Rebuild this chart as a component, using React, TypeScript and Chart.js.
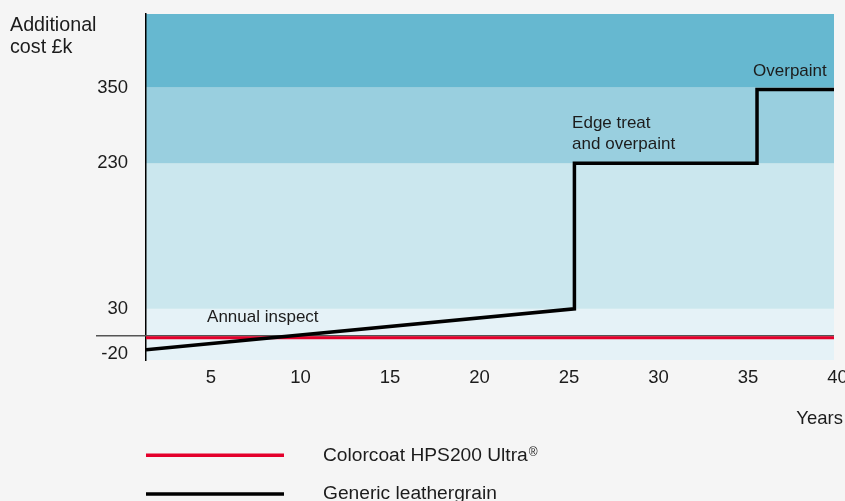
import React, { useEffect, useRef } from 'react';
import { Chart, registerables, LinearScale } from 'chart.js';

// ---------- data ----------
const yearTicks = [5, 10, 15, 20, 25, 30, 35, 40];
const costTicks = [-20, 30, 230, 350];
const bandEdges = [30, 230, 350];
const seriesNames = ['Colorcoat HPS200 Ultra®', 'Generic leathergrain'];
const colorcoatYears = [1.37, 39.8];
const colorcoatCost = [-2.3, -2.3];
const leatherYears = [1.37, 25.3, 25.3, 35.5, 35.5, 39.8];
const leatherCost = [-15.5, 30, 230, 230, 347, 347];
const annotationTexts = [['Annual inspect'], ['Edge treat', 'and overpaint'], ['Overpaint']];
const annotationYears = [4.78, 25.17, 35.28];
const annotationCosts = [15.3, 286, 368];
const yTitleLines = ['Additional', 'cost £k'];
const xTitle = 'Years';

// ---------- axis geometry ----------
const X_MIN = 1.37;
const X_MAX = 39.8;
// piecewise cost axis: value stops and their fraction of plot height (bottom -> top)
const Y_STOPS = [-27, 30, 230, 350, 466];
const Y_FRACS = [0, 0.148, 0.5685, 0.7876, 1];

// ---------- styles ----------
const FONT = '"Liberation Sans", Arial, Helvetica, sans-serif';
const TEXT = '#1c1c1c';
const BAND_COLORS = ['#e5f2f7', '#cbe7ee', '#99cfdf', '#66b8d0'];
const RED = '#e4002b';
const BLACK = '#000000';

function costToFrac(v: number): number {
  const s = Y_STOPS, f = Y_FRACS;
  let i = 0;
  while (i < s.length - 2 && v > s[i + 1]) i++;
  return f[i] + ((v - s[i]) / (s[i + 1] - s[i])) * (f[i + 1] - f[i]);
}
function fracToCost(d: number): number {
  const s = Y_STOPS, f = Y_FRACS;
  let i = 0;
  while (i < f.length - 2 && d > f[i + 1]) i++;
  return s[i] + ((d - f[i]) / (f[i + 1] - f[i])) * (s[i + 1] - s[i]);
}

class PiecewiseScale extends LinearScale {
  static id = 'piecewise';
  static defaults = {};
  getPixelForValue(value: any) {
    if (value === null || value === undefined || isNaN(value)) return NaN;
    return this.getPixelForDecimal(costToFrac(+value));
  }
  getValueForPixel(pixel: number) {
    return fracToCost(this.getDecimalForPixel(pixel));
  }
}

Chart.register(...registerables, PiecewiseScale as any);

const decorPlugin = {
  id: 'decor',
  beforeDraw(chart: any) {
    const { ctx, chartArea: a, scales } = chart;
    const y = scales.y;
    const edges = [a.bottom, ...bandEdges.map((v) => y.getPixelForValue(v)), a.top];
    ctx.save();
    for (let i = 0; i < BAND_COLORS.length; i++) {
      ctx.fillStyle = BAND_COLORS[i];
      ctx.fillRect(a.left, edges[i + 1], a.right - a.left, edges[i] - edges[i + 1]);
    }
    ctx.restore();
  },
  beforeDatasetsDraw(chart: any) {
    const { ctx, chartArea: a, scales } = chart;
    const y0 = scales.y.getPixelForValue(0);
    ctx.save();
    ctx.strokeStyle = '#555555';
    ctx.lineWidth = 1.4;
    ctx.beginPath();
    ctx.moveTo(a.left - 50, y0);
    ctx.lineTo(a.right, y0);
    ctx.stroke();
    ctx.restore();
  },
  afterDraw(chart: any) {
    const { ctx, chartArea: a, scales } = chart;
    const x = scales.x, y = scales.y;
    ctx.save();
    ctx.fillStyle = TEXT;
    ctx.textBaseline = 'alphabetic';
    ctx.textAlign = 'left';
    // annotations
    ctx.font = `17px ${FONT}`;
    annotationTexts.forEach((lines, i) => {
      const px = x.getPixelForValue(annotationYears[i]);
      const py = y.getPixelForValue(annotationCosts[i]);
      lines.forEach((t, j) => ctx.fillText(t, px, py + j * 21));
    });
    // y title
    ctx.font = `19.7px ${FONT}`;
    yTitleLines.forEach((t, j) => ctx.fillText(t, 10, 31 + j * 22));
    // x title
    ctx.font = `18.5px ${FONT}`;
    ctx.textAlign = 'right';
    ctx.fillText(xTitle, 843, 424);
    // legend
    ctx.textAlign = 'left';
    const lineYs = [455.3, 494];
    const baseYs = [461, 498.5];
    chart.data.datasets.forEach((ds: any, i: number) => {
      ctx.strokeStyle = ds.borderColor;
      ctx.lineWidth = 3.5;
      ctx.beginPath();
      ctx.moveTo(a.left, lineYs[i]);
      ctx.lineTo(284, lineYs[i]);
      ctx.stroke();
      let label: string = ds.label;
      let sup = '';
      if (label.endsWith('®')) {
        sup = '®';
        label = label.slice(0, -1);
      }
      ctx.font = `19.2px ${FONT}`;
      ctx.fillStyle = TEXT;
      ctx.fillText(label, 323, baseYs[i]);
      if (sup) {
        const w = ctx.measureText(label).width;
        ctx.font = `12px ${FONT}`;
        ctx.fillText(sup, 323 + w + 1, baseYs[i] - 5);
      }
    });
    ctx.restore();
  },
};

export default function App() {
  const ref = useRef<HTMLCanvasElement | null>(null);
  useEffect(() => {
    document.body.style.margin = '0';
    document.body.style.background = '#f5f5f5';
    const canvas = ref.current!;
    const chart = new Chart(canvas, {
      type: 'line',
      data: {
        datasets: [
          {
            label: seriesNames[0],
            data: colorcoatYears.map((yr, i) => ({ x: yr, y: colorcoatCost[i] })),
            borderColor: RED,
            borderWidth: 3,
            pointRadius: 0,
            tension: 0,
            order: 1,
          },
          {
            label: seriesNames[1],
            data: leatherYears.map((yr, i) => ({ x: yr, y: leatherCost[i] })),
            borderColor: BLACK,
            borderWidth: 3.5,
            pointRadius: 0,
            tension: 0,
            borderJoinStyle: 'miter',
            order: 0,
          },
        ],
      },
      options: {
        responsive: false,
        animation: false,
        devicePixelRatio: 1,
        layout: { padding: { top: 14, right: 11, left: 0, bottom: 0 } },
        plugins: { legend: { display: false }, tooltip: { enabled: false } },
        scales: {
          x: {
            type: 'linear',
            min: X_MIN,
            max: X_MAX,
            grid: { display: false, drawTicks: false },
            border: { display: false },
            afterBuildTicks: (s: any) => {
              s.ticks = yearTicks.map((v) => ({ value: v }));
            },
            afterFit: (s: any) => {
              s.height = 141;
              s.paddingLeft = 0;
              s.paddingRight = 0;
            },
            ticks: {
              autoSkip: false,
              maxRotation: 0,
              padding: 7,
              color: TEXT,
              font: { family: FONT, size: 18.5 },
              callback: (v: any) => String(v),
            },
          },
          y: {
            type: 'piecewise' as any,
            min: Y_STOPS[0],
            max: Y_STOPS[Y_STOPS.length - 1],
            grid: { display: false, drawTicks: false },
            border: { display: true, color: '#000000', width: 1.5 },
            afterBuildTicks: (s: any) => {
              s.ticks = costTicks.map((v) => ({ value: v }));
            },
            afterFit: (s: any) => {
              s.width = 146;
              s.paddingTop = 0;
              s.paddingBottom = 0;
            },
            ticks: {
              autoSkip: false,
              padding: 18,
              color: TEXT,
              font: { family: FONT, size: 18.5 },
              callback: (v: any) => String(v),
            },
          },
        },
      },
      plugins: [decorPlugin],
    } as any);
    return () => chart.destroy();
  }, []);
  return (
    <div style={{ width: 845, height: 501, background: '#f5f5f5' }}>
      <canvas ref={ref} width={845} height={501} style={{ display: 'block' }} />
    </div>
  );
}
